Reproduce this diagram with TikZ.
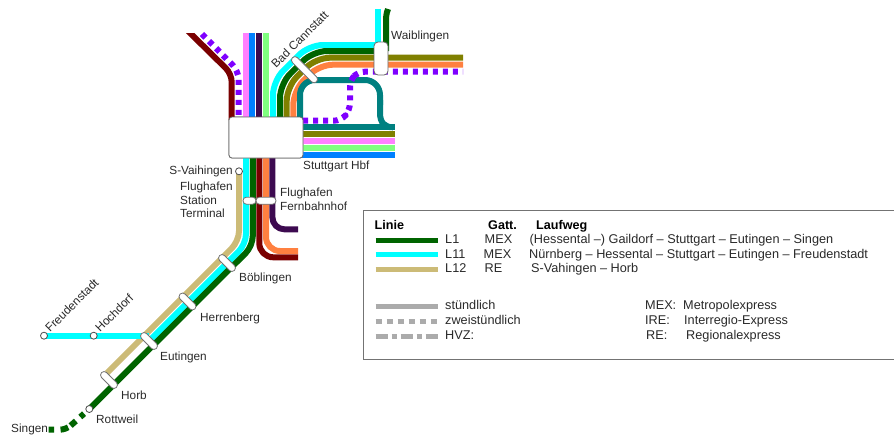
\documentclass[tikz,border=0pt]{standalone}
\usepackage{fontspec}
\setmainfont{Liberation Sans}
\definecolor{cCyan}{HTML}{00FFFF}
\definecolor{cGreen}{HTML}{006400}
\definecolor{cTan}{HTML}{CCBB77}
\definecolor{cRed}{HTML}{7A0000}
\definecolor{cPurple}{HTML}{3D0A50}
\definecolor{cPink}{HTML}{FF80FF}
\definecolor{cBlue}{HTML}{0080FF}
\definecolor{cLight}{HTML}{80FF80}
\definecolor{cOlive}{HTML}{808000}
\definecolor{cOrange}{HTML}{FF8040}
\definecolor{cTeal}{HTML}{008080}
\definecolor{cViolet}{HTML}{7F00FF}
\definecolor{cTxt}{HTML}{2A2A2A}
\tikzset{
  ln/.style={line width=6pt,line join=round},
  dotln/.style={ln,dash pattern=on 5pt off 5pt},
  stop/.style={circle,draw=black!70,fill=white,line width=0.8pt,inner sep=0pt,minimum size=7pt},
  capsule/.style={rectangle,rounded corners=3.4pt,draw=black!55,fill=white,line width=0.8pt,inner sep=0pt,minimum height=7pt,minimum width=#1},
  hub/.style={rectangle,rounded corners=3pt,draw=black!60,fill=white,line width=0.8pt,inner sep=0pt},
  lbl/.style={text=cTxt,inner sep=0pt,text height=10pt,text depth=2.5pt,font=\fontsize{11.8}{13}\selectfont},
  lg/.style={lbl,anchor=west},
  kt/.style={lbl,anchor=west,font=\fontsize{12.7}{14}\selectfont},
  lgb/.style={lbl,anchor=west,font=\fontsize{12.6}{14}\selectfont\bfseries,text=black},
  keyln/.style={line width=5pt},
  grayln/.style={line width=5pt,color=black!33}
}
\begin{document}
\begin{tikzpicture}[x=1pt,y=-1pt]
\useasboundingbox (0,0) rectangle (894,434);
% station nodes (placed first so the lines can refer to them)
\node[hub,minimum width=74pt,minimum height=41pt] (hbf) at (266,137.5) {};
\coordinate (wb) at (381,58.5);
\coordinate (cann) at (304.5,69.7);
\coordinate (fv) at (239,171.3);
\coordinate (fr) at (44,335.7);
\coordinate (ho) at (93.7,335.7);
\coordinate (rw) at (89.3,409);
\coordinate (eu) at (149,341);
\coordinate (hb) at (109,380);
\coordinate (si) at (48.5,429.7);
% lines north of the hub
\begin{scope}
\clip (0,33) rectangle (894,434);
\draw[ln,cRed,rounded corners=8pt] (186,29) -- (231.7,74) -- (231.7,120);
\end{scope}
\draw[dotln,cViolet,rounded corners=8pt] (202,34) -- (238.5,71) -- (238.5,117);
\draw[ln,cPink] (245.5,33) -- (245.5,120);
\draw[ln,cBlue] (252.3,33) -- (252.3,120);
\draw[ln,cPurple] (258.9,33) -- (258.9,120);
\draw[ln,cLight] (265.8,33) -- (265.8,120);
\draw[ln,cCyan,rounded corners=14pt] (273,120) -- (273,81) -- (309,45) -- (378,45);
\draw[ln,cGreen,rounded corners=14pt] (280,120) -- (280,84) -- (313,51) -- (381,51);
\draw[ln,cOlive,rounded corners=14pt] (286.7,120) -- (286.7,87) -- (316,57.7) -- (463,57.7);
\draw[ln,cOrange,rounded corners=14pt] (293.3,120) -- (293.3,91) -- (319,64.7) -- (463,64.7);
\draw[ln,cTeal,rounded corners=15pt] (300,120) -- (300,80) -- (380,80) -- (380,105);
\draw[ln,cTeal] (380,100) -- (380,113) .. controls (380,123) and (385,127.3) .. (393,127.3);
\draw[ln,cTeal] (300,127.3) -- (395,127.3);
\draw[ln,cOlive] (300,134.3) -- (395,134.3);
\draw[ln,cPink] (300,141) -- (395,141);
\draw[ln,cLight] (300,147.8) -- (395,147.8);
\draw[ln,cBlue] (300,155) -- (395,155);
\draw[dotln,cViolet,rounded corners=7pt] (303,120.7) -- (341,120.7) -- (350,110) -- (350,80) -- (358,71.7) -- (463,71.7);
\draw[ln,cCyan] (378,9) -- (378,45);
\draw[ln,cGreen] (388,9) .. controls (386,14) and (386,18) .. (386,24) -- (386,51);
% lines south of the hub
\draw[ln,cTan,rounded corners=10pt] (fv) -- (239,241) -- (107,373);
\draw[ln,cCyan,rounded corners=10pt] (246,155) -- (246,244) -- (eu);
\draw[ln,cGreen,rounded corners=10pt] (252.8,155) -- (252.8,246) -- (rw);
\draw[ln,cCyan] (fr) -- (ho) -- (eu |- fr);
\draw[ln,cGreen,dash pattern=on 0pt off 7pt on 5pt off 6pt on 7pt off 3pt on 8pt off 6.5pt on 7pt off 20pt,rounded corners=6pt] (rw) -- (66,429.7) -- (si);
\draw[ln,cRed,rounded corners=14pt] (259.3,155) -- (259.3,257.3) -- (298,257.3);
\draw[ln,cOrange,rounded corners=14pt] (266,155) -- (266,251) -- (298,251);
\draw[ln,cPurple,rounded corners=12pt] (272.4,155) -- (272.4,229.3) -- (298,229.3);
% station symbols
\node[hub,minimum width=74pt,minimum height=41pt] at (hbf) {};
\node[hub,rounded corners=4pt,minimum width=14pt,minimum height=33pt] (wbn) at (wb) {};
\node[capsule=34pt,rotate=-45] (cannn) at (cann) {};
\node[stop] (fvn) at (fv) {};
\node[stop] (frn) at (fr) {};
\node[stop] (hon) at (ho) {};
\node[stop] (rwn) at (rw) {};
\node[capsule=13pt] (fs) at (249.5,200.7) {};
\node[capsule=20pt] (ff) at (266,200.7) {};
\node[capsule=21pt,rotate=-45] (bb) at (227,263) {};
\node[capsule=21pt,rotate=-45] (hr) at (187.5,301.5) {};
\node[capsule=21pt,rotate=-45] (eun) at (eu) {};
\node[capsule=21pt,rotate=-45] (hbn) at (hb) {};
% labels
\node[lbl,anchor=south west,rotate=45] (l1) at (278,71) {Bad Cannstatt};
\node[lg] (l2) at (391,36) {Waiblingen};
\node[lg] (l3) at (303,165.5) {Stuttgart Hbf};
\node[lbl,anchor=east] (l4) at (233,171) {S-Vaihingen};
\node[lg] (l5) at (180,187) {Flughafen};
\node[lg] (l6) at (180,200.5) {Station};
\node[lg] (l7) at (180,214) {Terminal};
\node[lg] (l8) at (280,193) {Flughafen};
\node[lg] (l9) at (280,207) {Fernbahnhof};
\node[lg] (l10) at (239,278) {Böblingen};
\node[lg] (l11) at (200,318) {Herrenberg};
\node[lg] (l12) at (160,357) {Eutingen};
\node[lg] (l13) at (121,396) {Horb};
\node[lg] (l14) at (96,420) {Rottweil};
\node[lg] (l15) at (11,429) {Singen};
\node[lbl,anchor=south west,rotate=45] (l16) at (52,335) {Freudenstadt};
\node[lbl,anchor=south west,rotate=45] (l17) at (102,335) {Hochdorf};
% legend
\node[rectangle,draw=black!55,line width=0.8pt,fill=white,minimum width=560pt,minimum height=149pt,anchor=north west,inner sep=0pt] (legend) at (362.5,209.5) {};
\node[lgb] (h1) at (374.5,226) {Linie};
\node[lgb] (h2) at (488,226) {Gatt.};
\node[lgb] (h3) at (536,226) {Laufweg};
\coordinate (a1) at (375.5,240); \coordinate (b1) at (437.5,240);
\coordinate (a2) at (375.5,254.5); \coordinate (b2) at (437.5,254.5);
\coordinate (a3) at (375.5,269); \coordinate (b3) at (437.5,269);
\coordinate (a4) at (375.5,306); \coordinate (b4) at (437.5,306);
\coordinate (a5) at (375.5,321); \coordinate (b5) at (437.5,321);
\coordinate (a6) at (375.5,336); \coordinate (b6) at (437.5,336);
\draw[keyln,cGreen] (a1) -- (b1);
\draw[keyln,cCyan] (a2) -- (b2);
\draw[keyln,cTan] (a3) -- (b3);
\draw[grayln] (a4) -- (b4);
\draw[grayln,dash pattern=on 6pt off 5pt] (a5) -- (b5);
\draw[grayln,dash pattern=on 12pt off 4pt on 5pt off 4pt] (a6) -- (b6);
\node[kt] at (445,240) {L1};
\node[kt] at (484.5,240) {MEX};
\node[kt] at (529.5,240) {(Hessental –) Gaildorf – Stuttgart – Eutingen – Singen};
\node[kt] at (445,254.5) {L11};
\node[kt] at (483.5,254.5) {MEX};
\node[kt] at (529,254.5) {Nürnberg – Hessental – Stuttgart – Eutingen – Freudenstadt};
\node[kt] at (445,269) {L12};
\node[kt] at (484.5,269) {RE};
\node[kt] at (531,269) {S-Vahingen – Horb};
\node[kt] at (445,306) {stündlich};
\node[kt] at (445,321) {zweistündlich};
\node[kt] at (445,336) {HVZ:};
\node[kt] at (645,306) {MEX:};
\node[kt] at (683,306) {Metropolexpress};
\node[kt] at (645,321) {IRE:};
\node[kt] at (684,321) {Interregio-Express};
\node[kt] at (646,336) {RE:};
\node[kt] at (686,336) {Regionalexpress};
\end{tikzpicture}
\end{document}
